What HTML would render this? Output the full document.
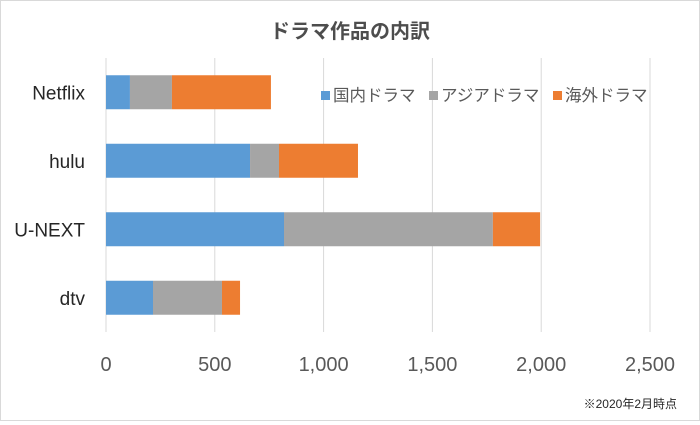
<!DOCTYPE html>
<html><head><meta charset="utf-8"><style>
body{margin:0;background:#fff;}
#c{position:relative;width:700px;height:421px;box-sizing:border-box;border:1px solid #d9d9d9;font-family:"Liberation Sans","Noto Sans CJK JP",sans-serif;}
</style></head><body>
<div id="c">
<svg id="s" width="698" height="419" xmlns="http://www.w3.org/2000/svg"></svg>
</div>
<script>
const categories=["Netflix","hulu","U-NEXT","dtv"];
const domestic=[110,662,818,216];
const asian=[193,133,960,317];
const overseas=[455,363,217,83];
const seriesNames=["国内ドラマ","アジアドラマ","海外ドラマ"];
const colors=["#5b9bd5","#a5a5a5","#ed7d31"];
const ticks=[0,500,1000,1500,2000,2500];
const tickLabels=["0","500","1,000","1,500","2,000","2,500"];
const s=document.getElementById('s');
const NS="http://www.w3.org/2000/svg";
const x0=105,x1=649,xmax=2500,plotTop=57,band=68.5,bh=34;
const X=v=>x0+(x1-x0)*v/xmax;
function el(t,a,txt){const e=document.createElementNS(NS,t);for(const k in a)e.setAttribute(k,a[k]);if(txt!=null)e.textContent=txt;s.appendChild(e);return e;}
let t=el('text',{x:349,y:37,'text-anchor':'middle','font-size':20,'font-weight':'bold',fill:'#4d4d4d'},'ドラマ作品の内訳');


ticks.forEach((v,i)=>{
 let g=el('line',{x1:X(v),x2:X(v),y1:plotTop,y2:plotTop+band*4,stroke:'#d9d9d9','stroke-width':1});
 
 
 let l=el('text',{x:X(v),y:370,'text-anchor':'middle','font-size':20,fill:'#595959'},tickLabels[i]);
 
 
});
const series=[domestic,asian,overseas];
categories.forEach((c,i)=>{
 const yc=plotTop+band*(i+0.5);
 let l=el('text',{x:84,y:yc+7,'text-anchor':'end','font-size':19,fill:'#262626'},c);
 
 
 let acc=0;
 series.forEach((sr,j)=>{
  let r=el('rect',{x:X(acc),y:yc-bh/2,width:X(acc+sr[i])-X(acc),height:bh,fill:colors[j]});
  
  
  acc+=sr[i];
 });
});
const lx=[320,428,552];
seriesNames.forEach((n,j)=>{
 let r=el('rect',{x:lx[j],y:90,width:9,height:9,fill:colors[j]});
 
 
 let tx=el('text',{x:lx[j]+12,y:100,'font-size':16.5,fill:'#595959'},n);
 
 
});
let n=el('text',{x:676,y:407,'text-anchor':'end','font-size':12,fill:'#262626'},'※2020年2月時点');


</script>
</body></html>
